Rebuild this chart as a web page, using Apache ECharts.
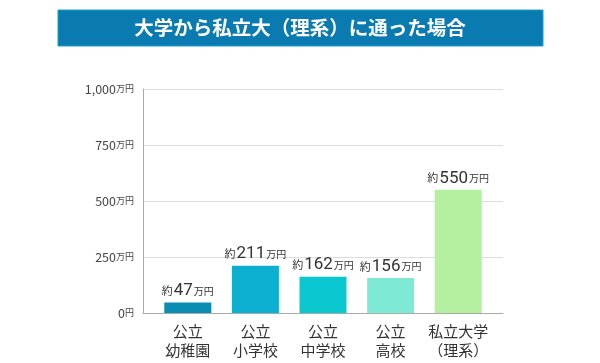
<!DOCTYPE html>
<html><head><meta charset="utf-8">
<script src="https://cdn.jsdelivr.net/npm/echarts@6/dist/echarts.min.js"></script>
<style>html,body{margin:0;padding:0;background:#fff}#c{width:600px;height:363px}</style>
</head><body><div id="c"></div>
<script>
const titleText = '大学から私立大（理系）に通った場合';
const categories = ['公立\n幼稚園', '公立\n小学校', '公立\n中学校', '公立\n高校', '私立大学\n（理系）'];
const values = [47, 211, 162, 156, 550];
const barColors = ['#0a8db3', '#0cafd0', '#0bc7d0', '#7eead6', '#b4f0a0'];
const yTicks = [0, 250, 500, 750, 1000];

const FONT = '"Noto Sans CJK JP", "Noto Sans", sans-serif';
const NUMFONT = 'Roboto, "Noto Sans CJK JP", sans-serif';
const chart = echarts.init(document.getElementById('c'));
chart.setOption({
  animation: false,
  graphic: [
    { type: 'rect', shape: { x: 58, y: 10, width: 485, height: 36 }, style: { fill: '#0a7bb1', stroke: '#1aa0cf', lineWidth: 1 } },
    { type: 'text', x: 300, y: 28, style: { text: titleText, fill: '#fff', font: 'bold 19.5px ' + FONT, textAlign: 'center', textVerticalAlign: 'middle' } }
  ],
  grid: [
    { left: 143, right: 97, top: 89, bottom: 50 },
    { left: 154, right: 108, top: 89, bottom: 50 }
  ],
  xAxis: [
    { type: 'value', gridIndex: 0, min: 0, max: 1, axisLine: { show: true, lineStyle: { color: '#aaa' } }, axisTick: { show: false }, axisLabel: { show: false }, splitLine: { show: false } },
    { type: 'category', gridIndex: 1, data: categories, axisLine: { show: false }, axisTick: { show: false },
      axisLabel: { color: '#333', fontSize: 15, fontFamily: FONT, margin: 9, lineHeight: 19, interval: 0 } }
  ],
  yAxis: [
    { type: 'value', gridIndex: 0, min: 0, max: 1000, interval: 250,
      axisLine: { show: true, lineStyle: { color: '#aaa' } }, axisTick: { show: false },
      splitLine: { lineStyle: { color: '#ddd' } },
      axisLabel: { margin: 9, formatter: v => v === 0 ? '{n|0}{u|円}' : '{n|' + v.toLocaleString('en-US') + '}{u|万円}',
        rich: { n: { fontSize: 12.5, color: '#444', fontFamily: FONT }, u: { fontSize: 9, color: '#444', fontFamily: FONT } } } },
    { type: 'value', gridIndex: 1, min: 0, max: 1000, show: false }
  ],
  series: [{
    type: 'bar', xAxisIndex: 1, yAxisIndex: 1, barWidth: 47,
    data: values.map((v, i) => ({ value: v, itemStyle: { color: barColors[i] } })),
    label: { show: true, position: 'top', distance: 3,
      formatter: p => '{a|約}{b|' + p.value + '}{c|万円}',
      rich: { a: { fontSize: 11, color: '#333', fontFamily: FONT }, b: { fontSize: 17, color: '#333', fontFamily: NUMFONT, padding: [0, 1, 0, 1] }, c: { fontSize: 10, color: '#333', fontFamily: FONT } } }
  }]
});
</script></body></html>
